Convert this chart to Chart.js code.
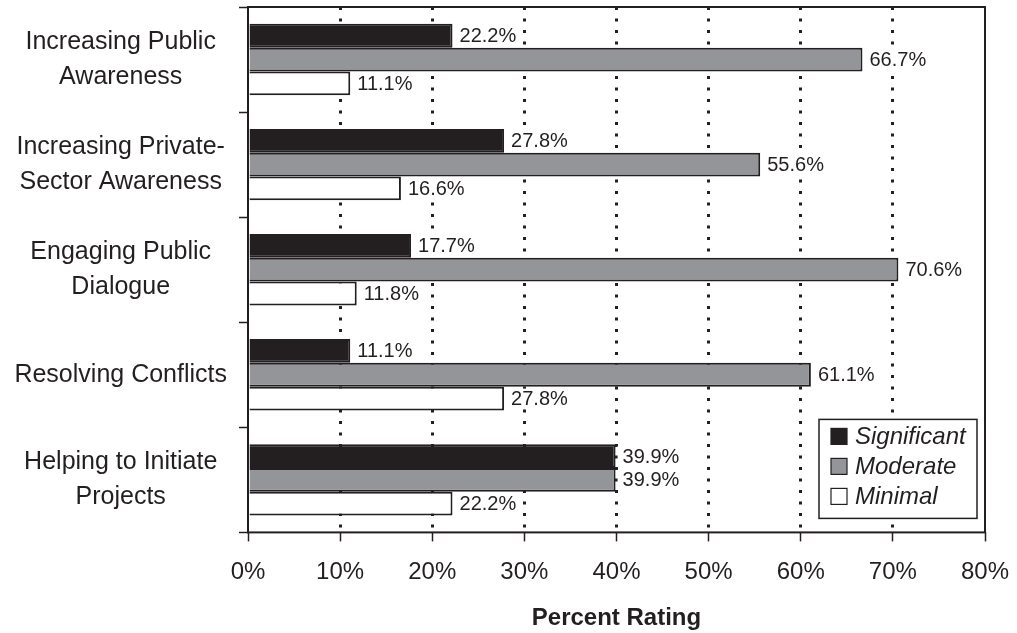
<!DOCTYPE html>
<html>
<head>
<meta charset="utf-8">
<script src="https://cdn.jsdelivr.net/npm/chart.js@4"></script>
<style>
  body { margin: 0; background: #fff; }
  #wrap { width: 1017px; height: 633px; }
</style>
</head>
<body>
<div id="wrap"><canvas id="myChart"></canvas></div>
<script>
const categories = [
  ["Increasing Public", "Awareness"],
  ["Increasing Private-", "Sector Awareness"],
  ["Engaging Public", "Dialogue"],
  "Resolving Conflicts",
  ["Helping to Initiate", "Projects"]
]
const seriesNames = ["Significant", "Moderate", "Minimal"]
const significant = [22.2, 27.8, 17.7, 11.1, 39.9]
const moderate = [66.7, 55.6, 70.6, 61.1, 39.9]
const minimal = [11.1, 16.6, 11.8, 27.8, 22.2]
const xTicks = [0, 10, 20, 30, 40, 50, 60, 70, 80]

const ink = '#231f20'
const fills = [ink, '#939598', '#ffffff']

Chart.defaults.font.family = '"Liberation Sans", Arial, sans-serif'
Chart.defaults.color = ink

// value labels at the end of every bar, on a white patch
const valueLabels = {
  id: 'valueLabels',
  afterDatasetsDraw(chart) {
    const ctx = chart.ctx
    ctx.save()
    ctx.font = '20px "Liberation Sans", Arial, sans-serif'
    ctx.textBaseline = 'middle'
    chart.data.datasets.forEach((ds, i) => {
      chart.getDatasetMeta(i).data.forEach((bar, j) => {
        const txt = ds.data[j].toFixed(1) + '%'
        const w = ctx.measureText(txt).width
        ctx.fillStyle = '#fff'
        ctx.fillRect(bar.x + 2, bar.y - 10, w + 7, 20)
        ctx.fillStyle = ink
        ctx.fillText(txt, bar.x + 7, bar.y + 1)
      })
    })
    ctx.restore()
  }
}

// solid frame round the plot and the boxed legend inside it
const frameAndLegend = {
  id: 'frameAndLegend',
  afterDraw(chart) {
    const ctx = chart.ctx
    const a = chart.chartArea
    ctx.save()
    ctx.strokeStyle = ink
    ctx.lineWidth = 2
    ctx.strokeRect(a.left, a.top, a.right - a.left, a.bottom - a.top)

    const right = a.right - 8, bottom = a.bottom - 14
    const left = right - 158, top = bottom - 99
    ctx.fillStyle = '#fff'
    ctx.fillRect(left, top, right - left, bottom - top)
    ctx.lineWidth = 1.5
    ctx.strokeRect(left, top, right - left, bottom - top)
    ctx.font = 'italic 24px "Liberation Sans", Arial, sans-serif'
    ctx.textBaseline = 'middle'
    chart.data.datasets.forEach((ds, i) => {
      const cy = top + 17 + i * 30
      ctx.fillStyle = ds.backgroundColor
      ctx.fillRect(left + 12, cy - 8, 16, 16)
      ctx.lineWidth = 1.2
      ctx.strokeRect(left + 12, cy - 8, 16, 16)
      ctx.fillStyle = ink
      ctx.fillText(ds.label, left + 36, cy + 1)
    })
    ctx.restore()
  }
}

const ctx = document.getElementById('myChart')
new Chart(ctx, {
  type: 'bar',
  data: {
    labels: categories,
    datasets: [significant, moderate, minimal].map((d, i) => ({
      label: seriesNames[i],
      data: d,
      backgroundColor: fills[i],
      borderColor: ink,
      borderWidth: 2,
      categoryPercentage: 0.68,
      barPercentage: 1.0
    }))
  },
  options: {
    indexAxis: 'y',
    responsive: true,
    maintainAspectRatio: false,
    animation: false,
    layout: { padding: { top: 7, right: 32, bottom: 0, left: 0 } },
    plugins: {
      legend: { display: false },
      tooltip: { enabled: false }
    },
    scales: {
      x: {
        min: 0,
        max: 80,
        afterBuildTicks(scale) {
          scale.ticks = xTicks.map(v => ({ value: v }))
        },
        afterFit(scale) {
          scale.paddingLeft = 0
          scale.paddingRight = 0
        },
        ticks: {
          callback: v => v + '%',
          font: { size: 24 },
          padding: 17,
          maxRotation: 0
        },
        grid: {
          color: c => (c.tick && (c.tick.value === 0 || c.tick.value === 80)) ? 'rgba(0,0,0,0)' : ink,
          lineWidth: 3,
          tickLength: 9,
          tickColor: ink,
          tickWidth: 1.5,
          tickBorderDash: []
        },
        border: { display: false, dash: [3, 8.5] },
        title: {
          display: true,
          text: 'Percent Rating',
          font: { size: 24, weight: 'bold' },
          padding: { top: 0, bottom: 0 }
        }
      },
      y: {
        afterFit(scale) {
          scale.width = 248
          scale.paddingTop = 0
          scale.paddingBottom = 0
        },
        ticks: {
          font: { size: 25, lineHeight: 1.4 },
          crossAlign: 'center',
          padding: 12
        },
        grid: {
          offset: true,
          drawOnChartArea: false,
          tickLength: 9,
          tickColor: ink,
          tickWidth: 1.5
        },
        border: { display: false }
      }
    }
  },
  plugins: [valueLabels, frameAndLegend]
})
</script>
</body>
</html>
